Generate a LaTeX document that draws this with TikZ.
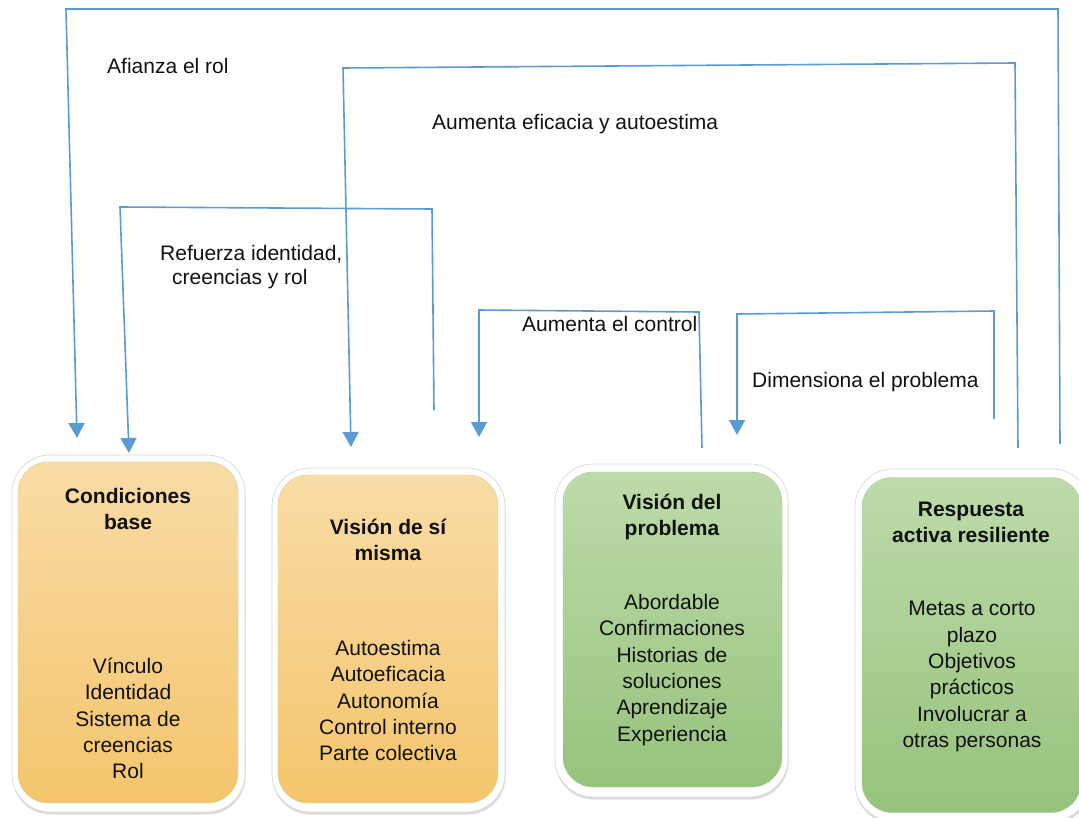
\documentclass[tikz,border=0pt]{standalone}
\usepackage{fontspec}
\setmainfont{Liberation Sans}
\usetikzlibrary{arrows.meta,shadows}
\definecolor{lineblue}{HTML}{5B9BD5}
\definecolor{orTop}{HTML}{F9DCA6}
\definecolor{orBot}{HTML}{F4C56C}
\definecolor{grTop}{HTML}{BDDBAA}
\definecolor{grBot}{HTML}{97C27C}
\definecolor{txt}{HTML}{111111}
\begin{document}
\begin{tikzpicture}[x=1pt,y=-1pt,
  frame/.style={draw=black!15, line width=0.7pt, fill=white, rounded corners=38pt,
    inner sep=0pt, drop shadow={opacity=0.28, shadow xshift=0.5pt, shadow yshift=-2.5pt}},
  orangebox/.style={draw=orBot!85!black!60, line width=0.4pt, rounded corners=30pt, inner sep=0pt,
    top color=orTop, bottom color=orBot},
  greenbox/.style={draw=grBot!85!black!60, line width=0.4pt, rounded corners=30pt, inner sep=0pt,
    top color=grTop, bottom color=grBot},
  title/.style={font=\fontsize{21}{26}\selectfont\bfseries, align=center, text=txt, inner sep=0pt},
  items/.style={font=\fontsize{21}{26.3}\selectfont, align=center, text=txt, inner sep=0pt},
  lbl/.style={font=\fontsize{21}{24}\selectfont, text=txt, inner sep=0pt, anchor=west},
  conn/.style={draw=lineblue, line width=1.6pt, -{Triangle[width=16pt,length=15pt]}}
]
\useasboundingbox (0,0) rectangle (1079,817);

\begin{scope}
\clip (0,0) rectangle (1079,817);
% Box 1
\node[frame, minimum width=233pt, minimum height=357pt] (f1) at (128.5,633.5) {};
\node[orangebox, minimum width=220pt, minimum height=341pt] (b1) at (128,632.5) {};
% Box 2
\node[frame, minimum width=233pt, minimum height=344pt] (f2) at (388.5,640) {};
\node[orangebox, minimum width=220pt, minimum height=328pt] (b2) at (388,639) {};
% Box 3
\node[frame, minimum width=233pt, minimum height=333pt] (f3) at (671.5,630.5) {};
\node[greenbox, minimum width=219pt, minimum height=315pt] (b3) at (672.5,629.5) {};
% Box 4
\node[frame, minimum width=235pt, minimum height=352pt] (f4) at (972.5,645) {};
\node[greenbox, minimum width=219pt, minimum height=335pt] (b4) at (971.5,645) {};
\end{scope}

% Box texts
\node[title] (t1) at (128,508.5) {Condiciones\\base};
\node[items] (l1) at (128,718.5) {Vínculo\\Identidad\\Sistema de\\creencias\\Rol};
\node[title] (t2) at (388,540) {Visión de sí\\misma};
\node[items] (l2) at (388,700.5) {Autoestima\\Autoeficacia\\Autonomía\\Control interno\\Parte colectiva};
\node[title] (t3) at (672,516.5) {Visión del\\problema};
\node[items] (l3) at (672,670) {Abordable\\Confirmaciones\\Historias de\\soluciones\\Aprendizaje\\Experiencia};
\node[title] (t4) at (971,522.5) {Respuesta\\activa resiliente};
\node[items] (l4) at (972,676.5) {Metas a corto\\plazo\\Objetivos\\prácticos\\Involucrar a\\otras personas};

% Connector labels
\node[lbl] (la) at (107,66) {Afianza el rol};
\node[lbl] (lb) at (432,124) {Aumenta eficacia y autoestima};
\node[lbl, align=left, font=\fontsize{21}{24}\selectfont] (lc) at (160,267) {Refuerza identidad,\\\hspace*{12pt}creencias y rol};
\node[lbl] (ld) at (522,324) {Aumenta el control};
\node[lbl] (le) at (752,382) {Dimensiona el problema};

% Connector coordinates
\coordinate (aS) at (1060,444);
\coordinate (aR) at (1058,9);
\coordinate (aL) at (66,9);
\coordinate (aE) at (77,438);

\coordinate (bS) at (1018,448);
\coordinate (bR) at (1015,63);
\coordinate (bL) at (343,68);
\coordinate (bE) at (351,447);

\coordinate (cS) at (434,410);
\coordinate (cR) at (432,209);
\coordinate (cL) at (120,207);
\coordinate (cE) at (129,453);

\coordinate (dS) at (702,448);
\coordinate (dR) at (699,312);
\coordinate (dL) at (479,310);
\coordinate (dE) at (479,437);

\coordinate (eS) at (994,419);
\coordinate (eR) at (994,311);
\coordinate (eL) at (737,314);
\coordinate (eE) at (737,435);

% Connectors
\draw[conn] (aS) -- (aR) -- (aL) -- (aE);
\draw[conn] (bS) -- (bR) -- (bL) -- (bE);
\draw[conn] (cS) -- (cR) -- (cL) -- (cE);
\draw[conn] (dS) -- (dR) -- (dL) -- (dE);
\draw[conn] (eS) -- (eR) -- (eL) -- (eE);
\end{tikzpicture}
\end{document}
